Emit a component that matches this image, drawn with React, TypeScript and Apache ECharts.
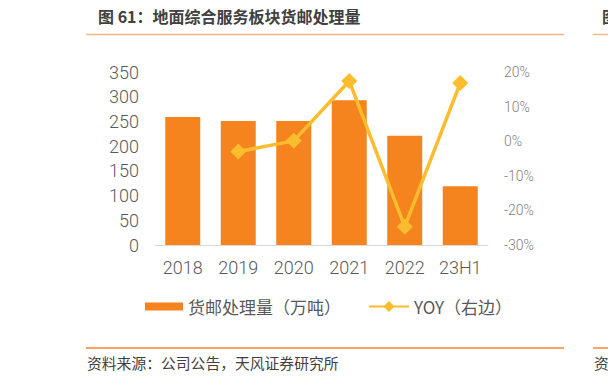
import React, { useEffect, useRef } from "react";
import * as echarts from "echarts";

const categories = ["2018", "2019", "2020", "2021", "2022", "23H1"];
const volume = [259, 251, 251, 293, 221, 119];
const yoy: (number | null)[] = [null, -3.0, 0.1, 17.4, -24.7, 16.8];

const leftTicks = { min: 0, max: 350, interval: 50 };
const rightTicks = { min: -30, max: 20, interval: 10 };

const barName = "货邮处理量（万吨）";
const lineName = "YOY（右边）";
const title = "图 61：地面综合服务板块货邮处理量";
const source = "资料来源：公司公告，天风证券研究所";

const numFont = "Roboto, 'Liberation Sans', sans-serif";
const cjkFont = "'Noto Sans CJK SC', sans-serif";

export default function App() {
  const ref = useRef<HTMLDivElement>(null);
  useEffect(() => {
    if (!ref.current) return;
    const chart = echarts.init(ref.current, undefined, { renderer: "svg" });
    chart.setOption({
      animation: false,
      backgroundColor: "#ffffff",
      grid: { left: 155, right: 120, top: 72, bottom: 138 },
      legend: [
        {
          data: [{ name: barName, icon: "rect" }],
          left: 140,
          top: 293,
          itemWidth: 38,
          itemHeight: 8,
          itemGap: 26,
          textStyle: { fontSize: 17, color: "#595959", fontFamily: cjkFont },
        },
        {
          data: [{ name: lineName }],
          left: 363,
          top: 293,
          itemWidth: 40,
          itemHeight: 14,
          textStyle: { fontSize: 17, color: "#595959", fontFamily: cjkFont },
        },
      ],
      xAxis: {
        type: "category",
        data: categories,
        axisLine: { lineStyle: { color: "#d9d9d9", width: 1 } },
        axisTick: { show: false },
        axisLabel: {
          interval: 0,
          fontSize: 18,
          color: "#595959",
          margin: 13,
          fontFamily: numFont,
          fontWeight: 300,
        },
      },
      yAxis: [
        {
          type: "value",
          ...leftTicks,
          axisLine: { show: false },
          axisTick: { show: false },
          splitLine: { show: false },
          axisLabel: {
            fontSize: 18,
            color: "#595959",
            margin: 16,
            fontFamily: numFont,
            fontWeight: 300,
          },
        },
        {
          type: "value",
          ...rightTicks,
          position: "right",
          axisLine: { show: false },
          axisTick: { show: false },
          splitLine: { show: false },
          axisLabel: {
            fontSize: 14,
            color: "#7f7f7f",
            margin: 16,
            align: "left",
            fontFamily: numFont,
            fontWeight: 300,
            formatter: (v: number) => `${v}%`,
          },
        },
      ],
      series: [
        {
          name: barName,
          type: "bar",
          data: volume,
          barWidth: 35,
          itemStyle: { color: "#F5841F" },
          yAxisIndex: 0,
        },
        {
          name: lineName,
          type: "line",
          data: yoy,
          yAxisIndex: 1,
          symbol: "diamond",
          symbolSize: 16,
          connectNulls: false,
          lineStyle: { color: "#FBBC2D", width: 3.5 },
          itemStyle: { color: "#FBBC2D" },
        },
      ],
      graphic: [
        {
          type: "text",
          left: 98,
          top: 8,
          style: {
            text: title,
            fontSize: 16,
            fontWeight: "bold",
            fill: "#404040",
            fontFamily: cjkFont,
          },
        },
        {
          type: "text",
          left: 602,
          top: 8,
          style: { text: "图", fontSize: 16, fontWeight: "bold", fill: "#404040", fontFamily: cjkFont },
        },
        { type: "line", shape: { x1: 86, y1: 34.5, x2: 564, y2: 34.5 }, style: { stroke: "#F8B684", lineWidth: 1.5 } },
        { type: "line", shape: { x1: 593, y1: 34.5, x2: 608, y2: 34.5 }, style: { stroke: "#F8B684", lineWidth: 1.5 } },
        { type: "line", shape: { x1: 86, y1: 348, x2: 564, y2: 348 }, style: { stroke: "#F5892A", lineWidth: 1.5 } },
        { type: "line", shape: { x1: 593, y1: 348, x2: 608, y2: 348 }, style: { stroke: "#F5892A", lineWidth: 1.5 } },
        {
          type: "text",
          left: 87,
          top: 355,
          style: { text: source, fontSize: 14.8, fill: "#404040", fontFamily: cjkFont },
        },
        {
          type: "text",
          left: 594,
          top: 355,
          style: { text: "资", fontSize: 14.8, fill: "#404040", fontFamily: cjkFont },
        },
      ],
    });
    return () => chart.dispose();
  }, []);
  return (
    <div
      ref={ref}
      style={{ position: "fixed", left: 0, top: 0, width: 608, height: 383 }}
    />
  );
}
